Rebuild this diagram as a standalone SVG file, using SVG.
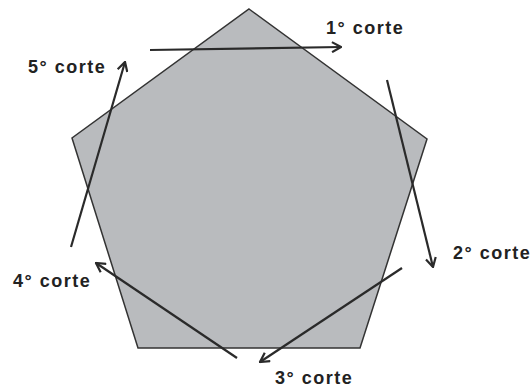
<svg xmlns="http://www.w3.org/2000/svg" width="532" height="389" viewBox="0 0 532 389">
<defs>
<style>
.lbl{font-family:"Liberation Sans",Arial,sans-serif;font-weight:bold;font-size:18px;fill:#222;letter-spacing:1.5px}
.cut{stroke:#2a2a2a;stroke-width:2.2;fill:none;marker-end:url(#ah)}
</style>
<marker id="ah" viewBox="0 0 12 12" refX="11" refY="6" markerWidth="12" markerHeight="12" markerUnits="userSpaceOnUse" orient="auto">
<path d="M2,1 L11,6 L2,11" fill="none" stroke="#2a2a2a" stroke-width="2.2"/>
</marker>
</defs>
<rect width="532" height="389" fill="#ffffff"/>
<g id="pentagon">
<polygon points="249,9 427,139 360,348 138,348 72,138" fill="#b9bbbe" stroke="#333" stroke-width="1.5"/>
</g>
<g id="connectors">
<line class="cut" x1="150" y1="50" x2="341" y2="47"/>
<line class="cut" x1="387" y1="80" x2="433" y2="267"/>
<line class="cut" x1="402" y1="268" x2="260" y2="362"/>
<line class="cut" x1="237" y1="358" x2="96" y2="263"/>
<line class="cut" x1="71" y1="247" x2="125" y2="62"/>
</g>
<g id="label1"><text class="lbl" x="326" y="34">1° corte</text></g>
<g id="label2"><text class="lbl" x="453" y="259">2° corte</text></g>
<g id="label3"><text class="lbl" x="275" y="384">3° corte</text></g>
<g id="label4"><text class="lbl" x="13" y="287">4° corte</text></g>
<g id="label5"><text class="lbl" x="28" y="73">5° corte</text></g>
</svg>
